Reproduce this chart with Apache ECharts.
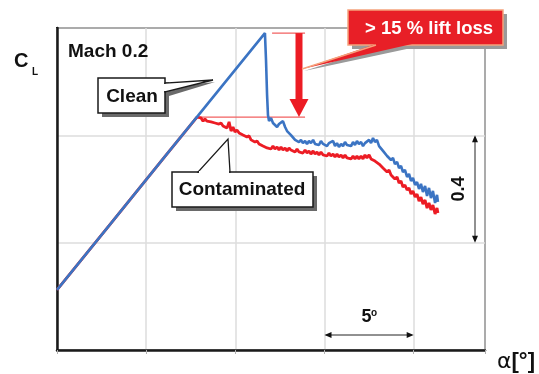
<!DOCTYPE html>
<html><head><meta charset="utf-8">
<script src="https://cdn.jsdelivr.net/npm/echarts@6/dist/echarts.min.js"></script>
<style>html,body{margin:0;padding:0;background:#fff}#c{width:539px;height:374px}</style>
</head><body><div id="c"></div>
<script>
// Axis settings (alpha in degrees, CL)
const alphaRange = [0, 24];
const alphaStep = 5;
const clRange = [0, 1.2];
const clStep = 0.4;

// Clean wing: [alpha, CL]
const cleanCurve = [
[0,0.224],[3.00,0.470],[6.00,0.717],[9.00,0.963],[11.66,1.181],[11.72,1.081],[11.78,0.950],[11.83,0.876],[11.89,0.853],
[12.00,0.865],[12.11,0.846],[12.22,0.853],[12.34,0.831],[12.45,0.842],[12.56,0.835],[12.67,0.853],[12.79,0.831],[12.90,0.816],[13.01,0.820],
[13.12,0.801],[13.23,0.794],[13.35,0.783],[13.46,0.790],[13.57,0.775],[13.68,0.783],[13.79,0.771],[13.91,0.779],[14.02,0.768],[14.13,0.779],
[14.24,0.771],[14.36,0.783],[14.47,0.768],[14.58,0.775],[14.69,0.764],[14.80,0.779],[14.92,0.768],[15.03,0.775],[15.14,0.760],[15.25,0.771],
[15.36,0.764],[15.48,0.779],[15.59,0.760],[15.70,0.771],[15.81,0.757],[15.93,0.768],[16.04,0.760],[16.15,0.775],[16.26,0.764],[16.37,0.771],
[16.49,0.760],[16.60,0.775],[16.71,0.764],[16.82,0.779],[16.93,0.768],[17.05,0.775],[17.16,0.760],[17.27,0.771],[17.38,0.764],[17.50,0.783],
[17.61,0.771],[17.72,0.790],[17.83,0.775],[17.94,0.783],[18.06,0.760],[18.17,0.764],[18.28,0.742],[18.39,0.745],[18.51,0.723],[18.62,0.730],
[18.73,0.708],[18.84,0.716],[18.95,0.693],[19.07,0.701],[19.18,0.678],[19.29,0.686],[19.40,0.663],[19.51,0.671],[19.63,0.645],[19.74,0.656],
[19.85,0.630],[19.96,0.641],[20.08,0.615],[20.19,0.626],[20.30,0.600],[20.41,0.619],[20.52,0.589],[20.64,0.611],[20.75,0.574],[20.86,0.604],
[20.97,0.566],[21.08,0.593],[21.20,0.548],[21.31,0.578],[21.36,0.552]
];

// Contaminated wing: [alpha, CL]
const contaminatedCurve = [
[0,0.224],[3.00,0.470],[6.00,0.717],[7.85,0.868],[7.96,0.861],[8.07,0.865],[8.19,0.853],[8.30,0.861],[8.41,0.853],[8.52,0.857],
[8.64,0.850],[8.75,0.853],[8.86,0.846],[8.97,0.850],[9.08,0.842],[9.20,0.846],[9.31,0.835],[9.42,0.842],[9.53,0.827],[9.65,0.850],
[9.76,0.816],[9.87,0.831],[9.98,0.812],[10.09,0.820],[10.21,0.809],[10.32,0.812],[10.43,0.801],[10.54,0.805],[10.65,0.794],[10.77,0.798],
[10.88,0.783],[10.99,0.786],[11.10,0.775],[11.22,0.779],[11.33,0.768],[11.44,0.771],[11.55,0.760],[11.66,0.764],[11.78,0.753],[11.89,0.760],
[12.00,0.749],[12.11,0.760],[12.22,0.749],[12.34,0.757],[12.45,0.745],[12.56,0.757],[12.67,0.745],[12.79,0.753],[12.90,0.742],[13.01,0.753],
[13.12,0.745],[13.23,0.749],[13.35,0.738],[13.46,0.749],[13.57,0.738],[13.68,0.745],[13.79,0.734],[13.91,0.745],[14.02,0.734],[14.13,0.742],
[14.24,0.730],[14.36,0.742],[14.47,0.730],[14.58,0.738],[14.69,0.727],[14.80,0.738],[14.92,0.727],[15.03,0.734],[15.14,0.723],[15.25,0.734],
[15.36,0.723],[15.48,0.730],[15.59,0.719],[15.70,0.730],[15.81,0.719],[15.93,0.727],[16.04,0.716],[16.15,0.727],[16.26,0.716],[16.37,0.723],
[16.49,0.712],[16.60,0.723],[16.71,0.712],[16.82,0.723],[16.93,0.712],[17.05,0.723],[17.16,0.712],[17.27,0.727],[17.38,0.716],[17.50,0.727],
[17.61,0.712],[17.72,0.719],[17.83,0.704],[17.94,0.708],[18.06,0.693],[18.17,0.697],[18.28,0.678],[18.39,0.682],[18.51,0.663],[18.62,0.671],
[18.73,0.652],[18.84,0.656],[18.95,0.637],[19.07,0.645],[19.18,0.622],[19.29,0.630],[19.40,0.607],[19.51,0.615],[19.63,0.596],[19.74,0.604],
[19.85,0.581],[19.96,0.593],[20.08,0.570],[20.19,0.581],[20.30,0.555],[20.41,0.570],[20.52,0.544],[20.64,0.559],[20.75,0.529],[20.86,0.548],
[20.97,0.522],[21.08,0.540],[21.20,0.507],[21.31,0.529],[21.36,0.511]
];

// Annotation values
const cleanMaxCL = 1.181;
const contMaxCL = 0.868;
const cleanRefLine = [12.06, 13.91];   // alpha span of upper reference line
const contRefLine = [8.02, 13.91];     // alpha span of lower reference line
const lossArrowAlpha = 13.57;
const deltaCL = [0.4, 0.8];           // "0.4" dimension arrow
const deltaAlpha = [15, 20];          // "5°" dimension arrow

const texts = {
  mach: 'Mach 0.2', clean: 'Clean', cont: 'Contaminated', loss: '> 15 % lift loss',
  dCL: '0.4', dA: '5', cl: 'C', clSub: 'L'
};

const FONT = '"Liberation Sans", Arial, Helvetica, sans-serif';
const BLUE = '#3b74c3', RED = '#ec1c24';

const chart = echarts.init(document.getElementById('c'), null, {renderer: 'canvas'});
chart.setOption({
  animation: false,
  backgroundColor: '#fff',
  grid: {left: 57, top: 28, right: 54, bottom: 24, show: true, borderColor: '#1a1a1a', borderWidth: 2},
  xAxis: {
    type: 'value', min: alphaRange[0], max: alphaRange[1], interval: alphaStep,
    axisLine: {show: true, onZero: false, lineStyle: {color: '#1a1a1a', width: 2.5}},
    axisTick: {show: true, length: 4, lineStyle: {color: '#b0b0b0', width: 1}},
    axisLabel: {show: false},
    splitLine: {show: true, lineStyle: {color: '#dcdcdc', width: 1.5}}
  },
  yAxis: {
    type: 'value', min: clRange[0], max: clRange[1], interval: clStep,
    axisLine: {show: true, onZero: false, lineStyle: {color: '#1a1a1a', width: 2.5}},
    axisTick: {show: false}, axisLabel: {show: false},
    splitLine: {show: true, lineStyle: {color: '#dcdcdc', width: 1.5}}
  },
  series: [
    {type: 'line', data: [[contRefLine[0], contMaxCL], [contRefLine[1], contMaxCL]], showSymbol: false, silent: true,
     lineStyle: {color: '#f26060', width: 1.2}, z: 3},
    {type: 'line', data: [[cleanRefLine[0], cleanMaxCL], [cleanRefLine[1], cleanMaxCL]], showSymbol: false, silent: true,
     lineStyle: {color: '#f26060', width: 1.2}, z: 3},
    {type: 'line', name: 'Contaminated', data: contaminatedCurve, showSymbol: false,
     lineStyle: {color: RED, width: 2.8}, z: 4},
    {type: 'line', name: 'Clean', data: cleanCurve, showSymbol: false,
     lineStyle: {color: BLUE, width: 2.6}, z: 5}
  ]
});

const P = (a, c) => chart.convertToPixel({gridIndex: 0}, [a, c]);

// derived pixel positions
const aTop = P(lossArrowAlpha, cleanMaxCL);
const aTip = P(lossArrowAlpha, contMaxCL);
const headH = 18, headW = 19, shaftW = 7;
const dy1 = P(0, deltaCL[1])[1], dy0 = P(0, deltaCL[0])[1];
const dx0 = P(deltaAlpha[0], 0)[0], dx1 = P(deltaAlpha[1], 0)[0];

let zc = 100;
const el = (o) => Object.assign({z: zc++}, o);
const arrowHead = (x, y, dir) => { // small black arrowheads
  const L = 7, W = 3;
  let pts;
  if (dir === 'up') pts = [[x, y], [x - W, y + L], [x + W, y + L]];
  else if (dir === 'down') pts = [[x, y], [x - W, y - L], [x + W, y - L]];
  else if (dir === 'left') pts = [[x, y], [x + L, y - W], [x + L, y + W]];
  else pts = [[x, y], [x - L, y - W], [x - L, y + W]];
  return el({type: 'polygon', shape: {points: pts}, style: {fill: '#111'}});
};

const g = [];
// red drop arrow
g.push(el({type: 'rect', shape: {x: aTop[0] - shaftW / 2, y: aTop[1], width: shaftW, height: aTip[1] - headH - aTop[1] + 1}, style: {fill: RED}}));
g.push(el({type: 'polygon', shape: {points: [[aTip[0] - headW / 2, aTip[1] - headH], [aTip[0] + headW / 2, aTip[1] - headH], [aTip[0], aTip[1]]]}, style: {fill: RED}}));

// red callout
g.push(el({type: 'polygon', shape: {points: [[380, 47], [416, 47], [304, 71]]}, style: {fill: '#9a9a9a'}}));
g.push(el({type: 'rect', shape: {x: 352, y: 14, width: 155, height: 35}, style: {fill: '#9a9a9a'}}));
g.push(el({type: 'rect', shape: {x: 348, y: 10, width: 155, height: 35}, style: {fill: '#e81f27', stroke: '#f5a27c', lineWidth: 1.5}}));
g.push(el({type: 'polygon', shape: {points: [[376, 44], [412, 44], [302, 69]]}, style: {fill: '#e81f27'}}));
g.push(el({type: 'line', shape: {x1: 376, y1: 45, x2: 302, y2: 69}, style: {stroke: '#f5a27c', lineWidth: 1.5}}));
g.push(el({type: 'text', style: {text: texts.loss, x: 429, y: 29, font: 'bold 18.5px ' + FONT, fill: '#fff', textAlign: 'center', textVerticalAlign: 'middle'}}));

// Clean callout
g.push(el({type: 'rect', shape: {x: 102, y: 82, width: 67, height: 35}, style: {fill: '#6a6a6a'}}));
g.push(el({type: 'polygon', shape: {points: [[168, 87], [169, 96], [215, 82]]}, style: {fill: '#6a6a6a'}}));
g.push(el({type: 'rect', shape: {x: 98, y: 78, width: 67, height: 35}, style: {fill: '#fff', stroke: '#1a1a1a', lineWidth: 1.5}}));
g.push(el({type: 'polygon', shape: {points: [[165, 83], [165, 92], [213, 80]]}, style: {fill: '#fff', stroke: '#1a1a1a', lineWidth: 1.3}}));
g.push(el({type: 'line', shape: {x1: 165, y1: 84, x2: 165, y2: 91}, style: {stroke: '#fff', lineWidth: 2}}));
g.push(el({type: 'text', style: {text: texts.clean, x: 132, y: 96.5, font: 'bold 19px ' + FONT, fill: '#111', textAlign: 'center', textVerticalAlign: 'middle'}}));

// Contaminated callout
g.push(el({type: 'rect', shape: {x: 176, y: 176, width: 141, height: 35}, style: {fill: '#6a6a6a'}}));
g.push(el({type: 'rect', shape: {x: 172, y: 172, width: 141, height: 35}, style: {fill: '#fff', stroke: '#1a1a1a', lineWidth: 1.5}}));
g.push(el({type: 'polygon', shape: {points: [[198, 172], [230, 172], [228, 139]]}, style: {fill: '#fff', stroke: '#1a1a1a', lineWidth: 1.3}}));
g.push(el({type: 'line', shape: {x1: 199, y1: 172, x2: 229, y2: 172}, style: {stroke: '#fff', lineWidth: 2}}));
g.push(el({type: 'text', style: {text: texts.cont, x: 242, y: 190, font: 'bold 19px ' + FONT, fill: '#111', textAlign: 'center', textVerticalAlign: 'middle'}}));

// Mach label
g.push(el({type: 'text', style: {text: texts.mach, x: 68, y: 52, font: 'bold 19px ' + FONT, fill: '#111', textAlign: 'left', textVerticalAlign: 'middle'}}));

// Axis titles
g.push(el({type: 'text', style: {text: texts.cl, x: 14, y: 61, font: 'bold 20px ' + FONT, fill: '#111', textAlign: 'left', textVerticalAlign: 'middle'}}));
g.push(el({type: 'text', style: {text: texts.clSub, x: 32, y: 72, font: 'bold 10px ' + FONT, fill: '#111', textAlign: 'left', textVerticalAlign: 'middle'}}));
g.push(el({type: 'text', style: {text: '{a|α}{b|[°]}', x: 497, y: 362, textAlign: 'left', textVerticalAlign: 'middle',
  rich: {a: {font: '22px "DejaVu Sans", ' + FONT, fill: '#111'}, b: {font: 'bold 22px ' + FONT, fill: '#111'}}}}));

// 0.4 dimension
g.push(el({type: 'line', shape: {x1: 475, y1: dy1 + 2, x2: 475, y2: dy0 - 2}, style: {stroke: '#222', lineWidth: 1}}));
g.push(arrowHead(475, dy1, 'up'));
g.push(arrowHead(475, dy0, 'down'));
g.push(el({type: 'text', x: 459, y: (dy0 + dy1) / 2, rotation: Math.PI / 2,
  style: {text: texts.dCL, x: 0, y: 0, font: 'bold 18px ' + FONT, fill: '#111', textAlign: 'center', textVerticalAlign: 'middle'}}));

// 5° dimension
g.push(el({type: 'line', shape: {x1: dx0 + 2, y1: 335, x2: dx1 - 2, y2: 335}, style: {stroke: '#222', lineWidth: 1}}));
g.push(arrowHead(dx0, 335, 'left'));
g.push(arrowHead(dx1, 335, 'right'));
g.push(el({type: 'text', style: {text: texts.dA, x: 366.5, y: 317, font: 'bold 18px ' + FONT, fill: '#111', textAlign: 'center', textVerticalAlign: 'middle'}}));
g.push(el({type: 'text', style: {text: 'o', x: 371, y: 313, font: 'bold 10px ' + FONT, fill: '#111', textAlign: 'left', textVerticalAlign: 'middle'}}));

chart.setOption({graphic: {elements: g}});
</script>
</body></html>
